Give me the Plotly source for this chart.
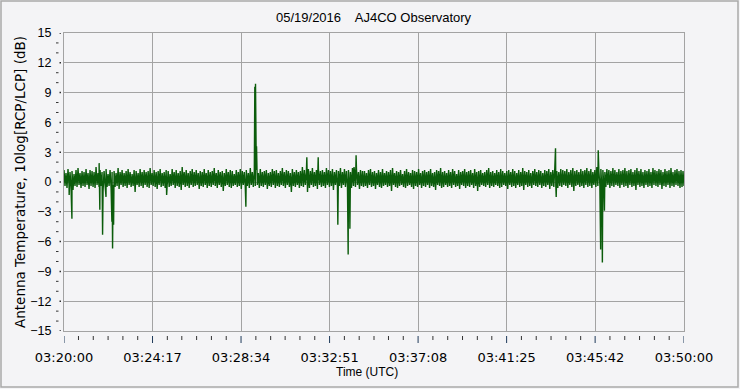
import numpy as np
import pandas as pd
import plotly.graph_objects as go

# ---------------- data ----------------
start_time = "2016-05-19 03:20:00"
end_time = "2016-05-19 03:50:00"
title_text = "05/19/2016    AJ4CO Observatory"
x_title = "Time (UTC)"
y_title = "Antenna Temperature, 10log[RCP/LCP] (dB)"

x_tick_labels = ["03:20:00", "03:24:17", "03:28:34", "03:32:51",
                 "03:37:08", "03:41:25", "03:45:42", "03:50:00"]
y_tick_values = [-15, -12, -9, -6, -3, 0, 3, 6, 9, 12, 15]

# upper envelope of the noise band (dB), read left to right
upper = [
    1.2, 0.9, 1.3, 1.0, 1.1, 0.8, 1.2, 1.4, 0.9, 1.1,
    1.0, 1.3, 0.9, 1.2, 1.1, 1.0, 1.5, 0.9, 1.2, 1.0,
    1.1, 1.3, 0.8, 1.2, 1.0, 1.1, 0.9, 1.4, 1.0, 1.2,
    0.9, 1.1, 1.3, 1.0, 0.8, 1.2, 1.1, 0.9, 1.3, 1.0,
    1.2, 1.0, 1.1, 1.4, 0.9, 1.2, 1.0, 1.1, 1.3, 0.9,
    1.0, 1.2, 1.1, 0.8, 1.3, 1.0, 1.2, 0.9, 1.1, 1.5,
    1.0, 1.2, 0.9, 1.1, 1.3, 1.0, 1.2, 0.9, 1.1, 1.0,
    1.3, 0.9, 1.2, 1.0, 1.1, 1.4, 0.9, 1.2, 1.0, 1.1,
    0.9, 1.3, 1.0, 1.2, 1.1, 0.8, 1.2, 1.0, 1.3, 1.1,
    1.0, 1.2, 0.9, 1.4, 1.0, 1.1, 1.2, 0.9, 1.3, 1.0,
    1.1, 1.2, 0.9, 1.0, 1.3, 1.1, 1.2, 0.9, 1.1, 1.4,
    1.0, 1.2, 1.1, 0.9, 1.3, 1.0, 1.2, 1.0, 1.1, 1.5,
    1.2, 1.0, 1.3, 1.1, 1.4, 1.0, 1.2, 1.3, 1.1, 1.2,
    1.0, 1.4, 1.2, 1.1, 1.3, 1.0, 1.2, 1.1, 1.4, 1.0,
    1.3, 1.1, 1.2, 1.0, 1.4, 1.1, 1.3, 1.0, 1.2, 1.1,
    1.1, 0.9, 1.2, 1.3, 1.0, 1.1, 0.9, 1.2, 1.0, 1.3,
    0.9, 1.1, 1.0, 1.2, 1.4, 0.9, 1.1, 1.0, 1.2, 0.8,
    1.1, 1.3, 1.0, 0.9, 1.2, 1.1, 1.0, 1.3, 0.9, 1.1,
    1.2, 1.0, 1.1, 1.3, 0.9, 1.0, 1.2, 1.1, 1.4, 1.0,
    1.1, 0.9, 1.2, 1.0, 1.3, 1.1, 0.8, 1.2, 1.0, 1.1,
    1.3, 1.0, 1.1, 1.2, 0.9, 1.3, 1.0, 1.1, 1.2, 0.9,
    1.0, 1.2, 1.4, 1.0, 1.1, 0.9, 1.2, 1.0, 1.3, 1.1,
    0.9, 1.1, 1.2, 1.0, 1.3, 1.1, 0.9, 1.2, 1.0, 1.4,
    1.1, 1.0, 1.2, 0.9, 1.1, 1.3, 1.0, 1.2, 1.1, 0.9,
    1.2, 1.1, 1.3, 1.0, 1.2, 1.4, 1.1, 1.0, 1.3, 1.2,
    1.1, 1.3, 1.0, 1.2, 1.4, 1.1, 1.2, 1.0, 1.3, 1.1,
    1.2, 1.4, 1.1, 1.3, 1.0, 1.2, 1.5, 1.1, 1.3, 1.2,
    1.0, 1.3, 1.2, 1.1, 1.4, 1.2, 1.0, 1.3, 1.1, 1.2,
    1.4, 1.1, 1.2, 1.3, 1.0, 1.2, 1.4, 1.1, 1.3, 1.0,
    1.2, 1.1, 1.3, 1.0, 1.4, 1.2, 1.1, 1.3, 1.2, 1.0,
    1.3, 1.1, 1.2, 1.4, 1.0, 1.2, 1.3, 1.1, 1.2, 1.1,
]
# lower envelope of the noise band (dB)
lower = [
    -0.4, -0.6, -0.3, -0.5, -0.8, -0.4, -0.5, -0.3, -0.6, -0.4,
    -0.5, -0.3, -0.7, -0.4, -0.5, -0.6, -0.3, -0.5, -0.4, -0.9,
    -0.3, -0.5, -0.4, -0.6, -0.3, -0.5, -0.4, -0.7, -0.3, -0.5,
    -0.4, -0.6, -0.3, -0.5, -0.4, -1.0, -0.3, -0.5, -0.4, -0.6,
    -0.3, -0.5, -0.6, -0.3, -0.4, -0.5, -0.7, -0.3, -0.5, -0.4,
    -0.6, -0.3, -0.5, -0.4, -0.3, -0.6, -0.4, -0.5, -0.8, -0.3,
    -0.5, -0.4, -0.6, -0.3, -0.5, -0.4, -0.3, -0.7, -0.4, -0.5,
    -0.3, -0.6, -0.4, -0.5, -0.3, -0.4, -0.6, -0.3, -0.5, -0.9,
    -0.4, -0.3, -0.5, -0.6, -0.4, -0.3, -0.5, -0.4, -0.7, -0.3,
    -0.5, -0.4, -0.6, -0.3, -0.5, -0.4, -0.3, -0.6, -0.4, -0.5,
    -0.3, -0.7, -0.4, -0.5, -0.3, -0.6, -0.4, -0.5, -0.3, -0.4,
    -0.6, -0.3, -0.5, -1.0, -0.4, -0.5, -0.3, -0.6, -0.4, -0.5,
    -0.3, -0.4, -0.6, -0.3, -0.5, -0.4, -0.7, -0.3, -0.5, -0.4,
    -0.6, -0.3, -0.5, -0.4, -0.8, -0.3, -0.5, -0.4, -0.6, -0.3,
    -0.5, -0.4, -0.3, -0.6, -0.4, -0.5, -0.3, -0.7, -0.4, -0.5,
    -0.4, -0.6, -0.3, -0.5, -0.4, -0.7, -0.3, -0.5, -0.6, -0.4,
    -0.3, -0.5, -0.4, -0.9, -0.3, -0.5, -0.6, -0.4, -0.3, -0.5,
    -0.6, -0.4, -0.3, -0.5, -0.7, -0.4, -0.5, -0.3, -0.6, -0.4,
    -0.5, -0.3, -0.6, -0.4, -0.5, -0.8, -0.3, -0.4, -0.6, -0.5,
    -0.3, -0.5, -0.4, -0.6, -0.3, -0.5, -0.4, -0.7, -0.3, -0.4,
    -0.6, -0.4, -0.5, -0.3, -0.6, -0.4, -0.9, -0.5, -0.3, -0.4,
    -0.5, -0.3, -0.6, -0.4, -0.5, -0.3, -0.4, -0.6, -0.5, -0.3,
    -0.4, -0.7, -0.3, -0.5, -0.4, -0.6, -0.3, -0.5, -0.4, -0.8,
    -0.3, -0.5, -0.4, -0.6, -0.3, -0.4, -0.5, -0.3, -0.6, -0.4,
    -0.5, -0.3, -0.7, -0.4, -0.5, -0.3, -0.6, -0.4, -0.5, -0.3,
    -0.4, -0.6, -0.3, -0.5, -0.9, -0.4, -0.3, -0.5, -0.4, -0.6,
    -0.3, -0.5, -0.4, -0.6, -0.3, -0.5, -0.4, -0.3, -0.7, -0.4,
    -0.5, -0.3, -0.6, -0.4, -0.5, -0.3, -0.4, -0.6, -0.3, -0.5,
    -0.4, -0.6, -0.3, -0.5, -0.4, -0.8, -0.3, -0.5, -0.4, -0.6,
    -0.3, -0.5, -0.4, -0.6, -0.3, -0.4, -0.5, -0.3, -0.7, -0.4,
    -0.5, -0.3, -0.6, -0.4, -0.5, -0.3, -0.4, -0.6, -0.5, -0.4,
]

# isolated spikes / dips (time, dB)
spike_times = [
    "03:20:15", "03:20:23", "03:21:42", "03:21:44", "03:21:52", "03:22:02",
    "03:22:19", "03:22:21", "03:22:24", "03:24:58", "03:28:48",
    "03:29:14", "03:29:16", "03:29:19", "03:31:45", "03:31:47", "03:32:18",
    "03:33:15", "03:33:45", "03:33:50", "03:34:02", "03:34:08",
    "03:43:47", "03:43:49", "03:45:51", "03:45:58", "03:46:03", "03:46:09",
]
spike_values = [
    -1.3, -3.7, 1.9, -2.8, -5.3, -1.5,
    -4.0, -6.7, -4.3, -1.3, -2.5,
    9.6, 9.9, 3.6, 2.5, -1.0, 2.5,
    -4.3, -7.3, -4.7, 1.5, 2.7,
    3.4, -1.5, 3.2, -6.8, -8.1, -2.9,
]

# ---------------- build series ----------------
t0 = pd.Timestamp(start_time)
t1 = pd.Timestamp(end_time)
n = len(upper) + len(lower)
span = (t1 - t0).total_seconds()
base_t = [t0 + pd.Timedelta(seconds=span * i / (n - 1)) for i in range(n)]
base_v = []
for u, l in zip(upper, lower):
    base_v.extend([u, l])
spk_t = [pd.Timestamp("2016-05-19 " + s) for s in spike_times]
df = pd.DataFrame({"t": base_t + spk_t, "v": base_v + spike_values})
df = df.sort_values("t", kind="stable")

LINE = "#0b5c0b"
BG = "#f4f4f6"
GRID = "#a3a3a3"

fig = go.Figure()
fig.add_trace(go.Scatter(x=df["t"], y=df["v"], mode="lines",
                         line=dict(color=LINE, width=1.4, simplify=False),
                         hoverinfo="skip", showlegend=False))

n_major = len(x_tick_labels)
major_t = [t0 + (t1 - t0) * i / (n_major - 1) for i in range(n_major)]
minor_t = [t0 + (t1 - t0) * i / ((n_major - 1) * 6) for i in range((n_major - 1) * 6 + 1)]

W, H = 740, 389
ML, MR, MT, MB = 64, 56, 33, 58
PW, PH = W - ML - MR, H - MT - MB

shapes = []
for i, t in enumerate(minor_t):
    major = (i % 6 == 0)
    shapes.append(dict(type="line", xref="x", yref="paper", x0=t, x1=t,
                       y0=-5 / PH, y1=-(12 if major else 9) / PH,
                       line=dict(color="#1f3a5a" if major else "#333333", width=1)))
for yv in range(-15, 16):
    major = (yv % 3 == 0)
    if major:
        shapes.append(dict(type="line", xref="paper", yref="y",
                           x0=-4.5 / PW, x1=-3.0 / PW, y0=yv, y1=yv,
                           line=dict(color="#333333", width=1.5)))
    else:
        shapes.append(dict(type="line", xref="paper", yref="y",
                           x0=-8.0 / PW, x1=-5.5 / PW, y0=yv, y1=yv,
                           line=dict(color="#333333", width=1)))
# outer window frame
shapes.append(dict(type="rect", xref="paper", yref="paper",
                   x0=-(ML - 1) / PW, x1=(W - ML - 2) / PW,
                   y0=-(MB - 2) / PH, y1=(PH + MT - 1) / PH,
                   line=dict(color="#a9a9a9", width=1.5)))

fig.update_layout(
    width=W, height=H,
    margin=dict(l=ML, r=MR, t=MT, b=MB),
    paper_bgcolor=BG, plot_bgcolor=BG,
    font=dict(family="Liberation Sans", size=12, color="#000000"),
    shapes=shapes,
    annotations=[
        dict(text=title_text, xref="paper", yref="paper", x=0.5,
             y=(PH + 15) / PH, xanchor="center", yanchor="middle",
             showarrow=False, font=dict(family="Liberation Sans", size=13)),
        dict(text=x_title, xref="paper", yref="paper", x=(367 - ML) / PW,
             y=-(372 - MT - PH) / PH, xanchor="center", yanchor="middle",
             showarrow=False, font=dict(family="Liberation Sans", size=12)),
        dict(text=y_title, xref="paper", yref="paper", x=(20 - ML) / PW,
             y=0.5, xanchor="center", yanchor="middle", textangle=-90,
             showarrow=False, font=dict(family="DejaVu Sans", size=13.5)),
    ],
)
fig.update_xaxes(
    type="date", range=[t0, t1], tickvals=major_t, ticktext=x_tick_labels,
    ticks="outside", ticklen=14, tickcolor="rgba(0,0,0,0)",
    tickfont=dict(family="DejaVu Sans", size=13),
    showgrid=True, gridcolor=GRID, gridwidth=1,
    showline=True, linecolor=GRID, linewidth=1, mirror=True, zeroline=False,
)
fig.update_yaxes(
    range=[-15, 15], tickvals=y_tick_values,
    ticks="outside", ticklen=9, tickcolor="rgba(0,0,0,0)",
    tickfont=dict(family="Liberation Sans", size=12.5),
    showgrid=True, gridcolor=GRID, gridwidth=1,
    showline=True, linecolor=GRID, linewidth=1, mirror=True, zeroline=False,
)

fig.write_html("out.html")
